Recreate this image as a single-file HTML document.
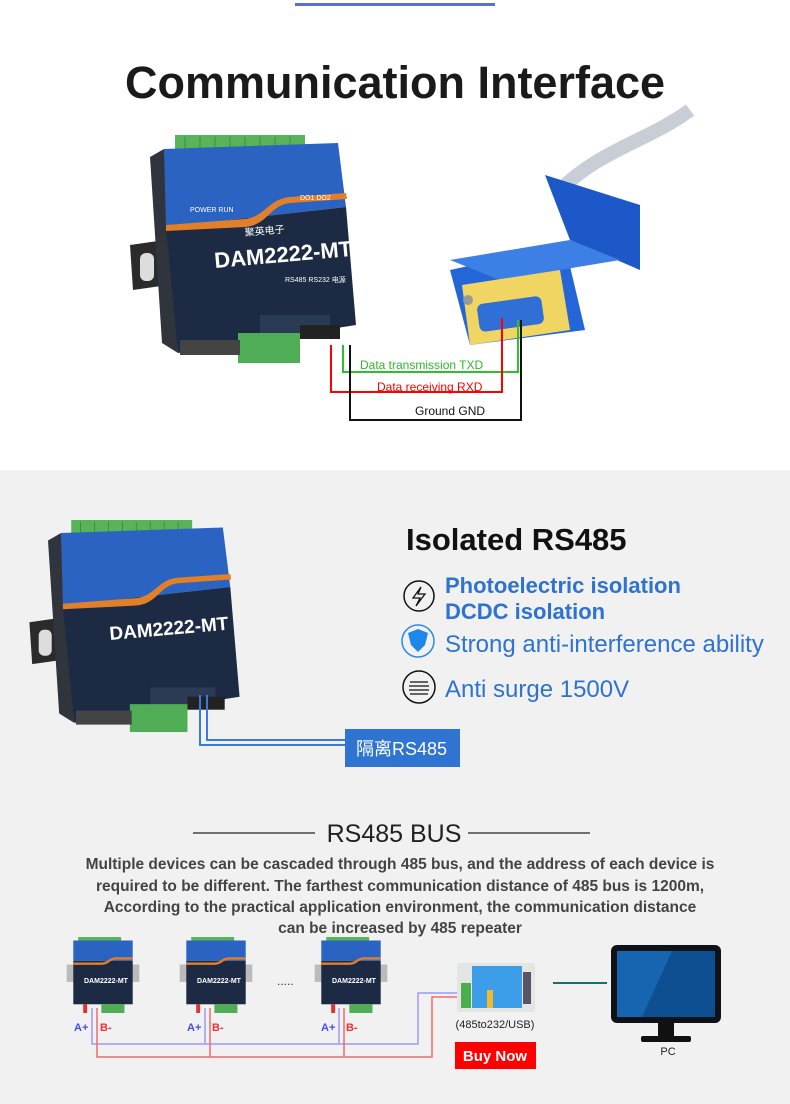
<!DOCTYPE html>
<html><head><meta charset="utf-8"><style>
html,body{margin:0;padding:0;background:#fff}
svg{display:block}
text{font-family:"Liberation Sans","Noto Sans CJK SC",sans-serif}
</style></head><body>
<svg width="790" height="1104" viewBox="0 0 790 1104" xmlns="http://www.w3.org/2000/svg">
<defs>
<g id="dev">
  <rect x="25" y="0" width="130" height="16" fill="#58b35a"/>
  <g stroke="#3d8c3f" stroke-width="1">
    <line x1="35" y1="2" x2="35" y2="14"/><line x1="50" y1="2" x2="50" y2="14"/><line x1="65" y1="2" x2="65" y2="14"/><line x1="80" y1="2" x2="80" y2="14"/><line x1="95" y1="2" x2="95" y2="14"/><line x1="110" y1="2" x2="110" y2="14"/><line x1="125" y1="2" x2="125" y2="14"/><line x1="140" y1="2" x2="140" y2="14"/>
  </g>
  <polygon points="-20,110 15,105 18,150 -17,155" fill="#2b2b2b"/>
  <rect x="-10" y="118" width="14" height="28" rx="6" fill="#ddd"/>
  <polygon points="0,22 14,14 28,218 12,208" fill="#30343c"/>
  <polygon points="14,14 188,8 196,72 16,92" fill="#2b63c2"/>
  <polygon points="16,92 196,72 206,190 28,218" fill="#1d2a44"/>
  <path d="M16,90 L95,84 C115,82 118,64 140,62 L196,58 L197,64 L140,68 C120,70 118,90 95,92 L16,96 Z" fill="#e2802a"/>
  <rect x="110" y="180" width="70" height="20" fill="#2b3a55"/>
  <rect x="88" y="198" width="62" height="30" fill="#4fae55"/>
  <rect x="30" y="205" width="60" height="15" fill="#444"/>
  <rect x="150" y="190" width="40" height="14" fill="#222"/>
</g>
<g id="devs">
  <rect x="25" y="0" width="130" height="16" fill="#58b35a"/>
  <rect x="-10" y="95" width="220" height="60" fill="#bbb"/>
  <rect x="10" y="12" width="180" height="70" fill="#2b63c2"/>
  <rect x="10" y="82" width="180" height="150" fill="#1d2a44"/>
  <path d="M10,88 L95,88 C115,88 118,70 140,70 L190,70 L190,78 L140,78 C120,78 118,96 95,96 L10,96 Z" fill="#e2802a"/>
  <rect x="95" y="232" width="70" height="30" fill="#4fae55"/>
  <rect x="40" y="232" width="12" height="30" fill="#d33"/>
</g>
</defs>

<rect width="790" height="470" fill="#fff"/>
<rect x="295" y="3" width="200" height="3" fill="#5a6fd0"/>
<text x="395" y="98" font-size="45" font-weight="bold" fill="#1a1a1a" text-anchor="middle">Communication Interface</text>

<!-- connector -->
<path d="M560,190 C600,150 650,140 690,110" stroke="#c9ced6" stroke-width="14" fill="none"/>
<polygon points="545,175 640,205 640,270 570,240" fill="#1c58c8"/>
<polygon points="450,270 565,245 585,330 470,345" fill="#2466d8"/>
<polygon points="450,260 570,240 620,260 500,280" fill="#3c80e6"/>
<polygon points="462,285 560,270 570,330 470,345" fill="#f1d562"/>
<rect x="478" y="300" width="65" height="28" rx="6" fill="#2f6fd6" transform="rotate(-8 510 314)"/>
<circle cx="468" cy="300" r="5" fill="#999"/>

<!-- big device -->
<use href="#dev" transform="translate(150,135)"/>
<text x="215" y="268" font-size="22" font-weight="bold" fill="#fff" transform="rotate(-5 215 268)">DAM2222-MT</text>
<text x="245" y="236" font-size="10" fill="#fff" transform="rotate(-5 245 236)">聚英电子</text>
<text x="190" y="212" font-size="7" fill="#fff">POWER  RUN</text>
<text x="300" y="200" font-size="7" fill="#fff">DO1   DO2</text>
<text x="285" y="282" font-size="7" fill="#fff">RS485  RS232  电源</text>

<g fill="none" stroke-width="2">
<path d="M343,345 V372 H518 V320" stroke="#2fbf2f"/>
<path d="M331,345 V392 H502 V318" stroke="#f00"/>
<path d="M350,345 V420 H521 V320" stroke="#111"/>
</g>
<text x="360" y="369" font-size="12" fill="#2db82d">Data transmission TXD</text>
<text x="377" y="391" font-size="12" fill="#f00">Data receiving RXD</text>
<text x="415" y="415" font-size="12" fill="#111">Ground GND</text>

<rect x="0" y="470" width="790" height="634" fill="#f1f1f1"/>

<use href="#dev" transform="translate(48,520) scale(0.93)"/>
<text x="110" y="640" font-size="19" font-weight="bold" fill="#fff" transform="rotate(-5 110 640)">DAM2222-MT</text>
<g fill="none" stroke="#3b78e0" stroke-width="2">
<path d="M200,695 V745 H345"/><path d="M207,695 V740 H345"/>
</g>
<rect x="345" y="729" width="115" height="38" fill="#2f74d0"/>
<text x="356" y="755" font-size="18" fill="#fff">隔离RS485</text>

<text x="406" y="550" font-size="31" font-weight="bold" fill="#111">Isolated RS485</text>
<circle cx="419" cy="596" r="15" fill="none" stroke="#111" stroke-width="1.5"/>
<path d="M421,587 L413,598 L420,598 L416,606 L425,594 L418,594 Z" fill="none" stroke="#111" stroke-width="1.3"/>
<text x="445" y="593" font-size="22" font-weight="bold" fill="#2e72d2">Photoelectric isolation</text>
<text x="445" y="619" font-size="22" font-weight="bold" fill="#2e72d2">DCDC isolation</text>
<circle cx="418" cy="641" r="16" fill="none" stroke="#2e8ae6" stroke-width="1.5"/>
<path d="M408,633 L418,629 L428,633 L425,645 L418,652 L411,645 Z" fill="#1f86ea"/>
<text x="445" y="652" font-size="24" fill="#2e72d2">Strong anti-interference ability</text>
<circle cx="419" cy="687" r="16" fill="none" stroke="#111" stroke-width="1.5"/>
<g stroke="#111" stroke-width="1.2"><line x1="410" y1="682" x2="428" y2="682"/><line x1="409" y1="686" x2="429" y2="686"/><line x1="409" y1="690" x2="429" y2="690"/><line x1="410" y1="694" x2="428" y2="694"/></g>
<text x="445" y="697" font-size="24" fill="#2e72d2">Anti surge 1500V</text>

<line x1="193" y1="833" x2="315" y2="833" stroke="#222" stroke-width="1.2"/>
<line x1="468" y1="833" x2="590" y2="833" stroke="#222" stroke-width="1.2"/>
<text x="394" y="842" font-size="25" fill="#222" text-anchor="middle">RS485 BUS</text>
<g font-size="15.5" font-weight="bold" fill="#444" text-anchor="middle">
<text x="400" y="869">Multiple devices can be cascaded through 485 bus, and the address of each device is</text>
<text x="400" y="891">required to be different. The farthest communication distance of 485 bus is 1200m,</text>
<text x="400" y="912">According to the practical application environment, the communication distance</text>
<text x="400" y="933">can be increased by 485 repeater</text>
</g>

<use href="#devs" transform="translate(70,937) scale(0.33,0.29)"/>
<use href="#devs" transform="translate(183,937) scale(0.33,0.29)"/>
<use href="#devs" transform="translate(318,937) scale(0.33,0.29)"/>
<text x="84" y="983" font-size="7" font-weight="bold" fill="#fff">DAM2222-MT</text>
<text x="197" y="983" font-size="7" font-weight="bold" fill="#fff">DAM2222-MT</text>
<text x="332" y="983" font-size="7" font-weight="bold" fill="#fff">DAM2222-MT</text>
<text x="277" y="985" font-size="12" fill="#333">.....</text>

<!-- bus wires -->
<g fill="none" stroke-width="1.5">
<path d="M92,1008 V1044 H418 V993 H462" stroke="#9b9bf2"/>
<path d="M205,1008 V1044" stroke="#9b9bf2"/>
<path d="M339,1008 V1044" stroke="#9b9bf2"/>
<path d="M97,1008 V1057 H432 V997 H462" stroke="#f06a6a"/>
<path d="M210,1008 V1057" stroke="#f06a6a"/>
<path d="M344,1008 V1057" stroke="#f06a6a"/>
</g>
<text x="74" y="1031" font-size="11" font-weight="bold" fill="#4a4af0">A+</text>
<text x="100" y="1031" font-size="11" font-weight="bold" fill="#f03030">B-</text>
<text x="187" y="1031" font-size="11" font-weight="bold" fill="#4a4af0">A+</text>
<text x="212" y="1031" font-size="11" font-weight="bold" fill="#f03030">B-</text>
<text x="321" y="1031" font-size="11" font-weight="bold" fill="#4a4af0">A+</text>
<text x="346" y="1031" font-size="11" font-weight="bold" fill="#f03030">B-</text>

<!-- converter -->
<rect x="457" y="963" width="78" height="49" fill="#e4e6e4"/>
<rect x="472" y="966" width="50" height="42" fill="#3c9ee8"/>
<rect x="487" y="990" width="6" height="18" fill="#f5b82a"/>
<rect x="461" y="983" width="10" height="25" fill="#4aae4c"/>
<rect x="523" y="972" width="8" height="32" fill="#556"/>
<text x="495" y="1028" font-size="11" fill="#222" text-anchor="middle">(485to232/USB)</text>
<rect x="455" y="1042" width="81" height="27" fill="#f00"/>
<text x="495" y="1061" font-size="15" font-weight="bold" fill="#fff" text-anchor="middle">Buy Now</text>

<line x1="553" y1="983" x2="607" y2="983" stroke="#157070" stroke-width="2"/>
<rect x="611" y="945" width="110" height="78" rx="6" fill="#0f1216"/>
<rect x="617" y="951" width="98" height="66" fill="#1565b0"/>
<polygon points="672,951 715,951 715,1017 642,1017" fill="#0d4f90"/>
<rect x="658" y="1023" width="16" height="16" fill="#111"/>
<rect x="641" y="1036" width="50" height="6" rx="2" fill="#111"/>
<text x="668" y="1055" font-size="11" fill="#222" text-anchor="middle">PC</text>
</svg>
</body></html>
